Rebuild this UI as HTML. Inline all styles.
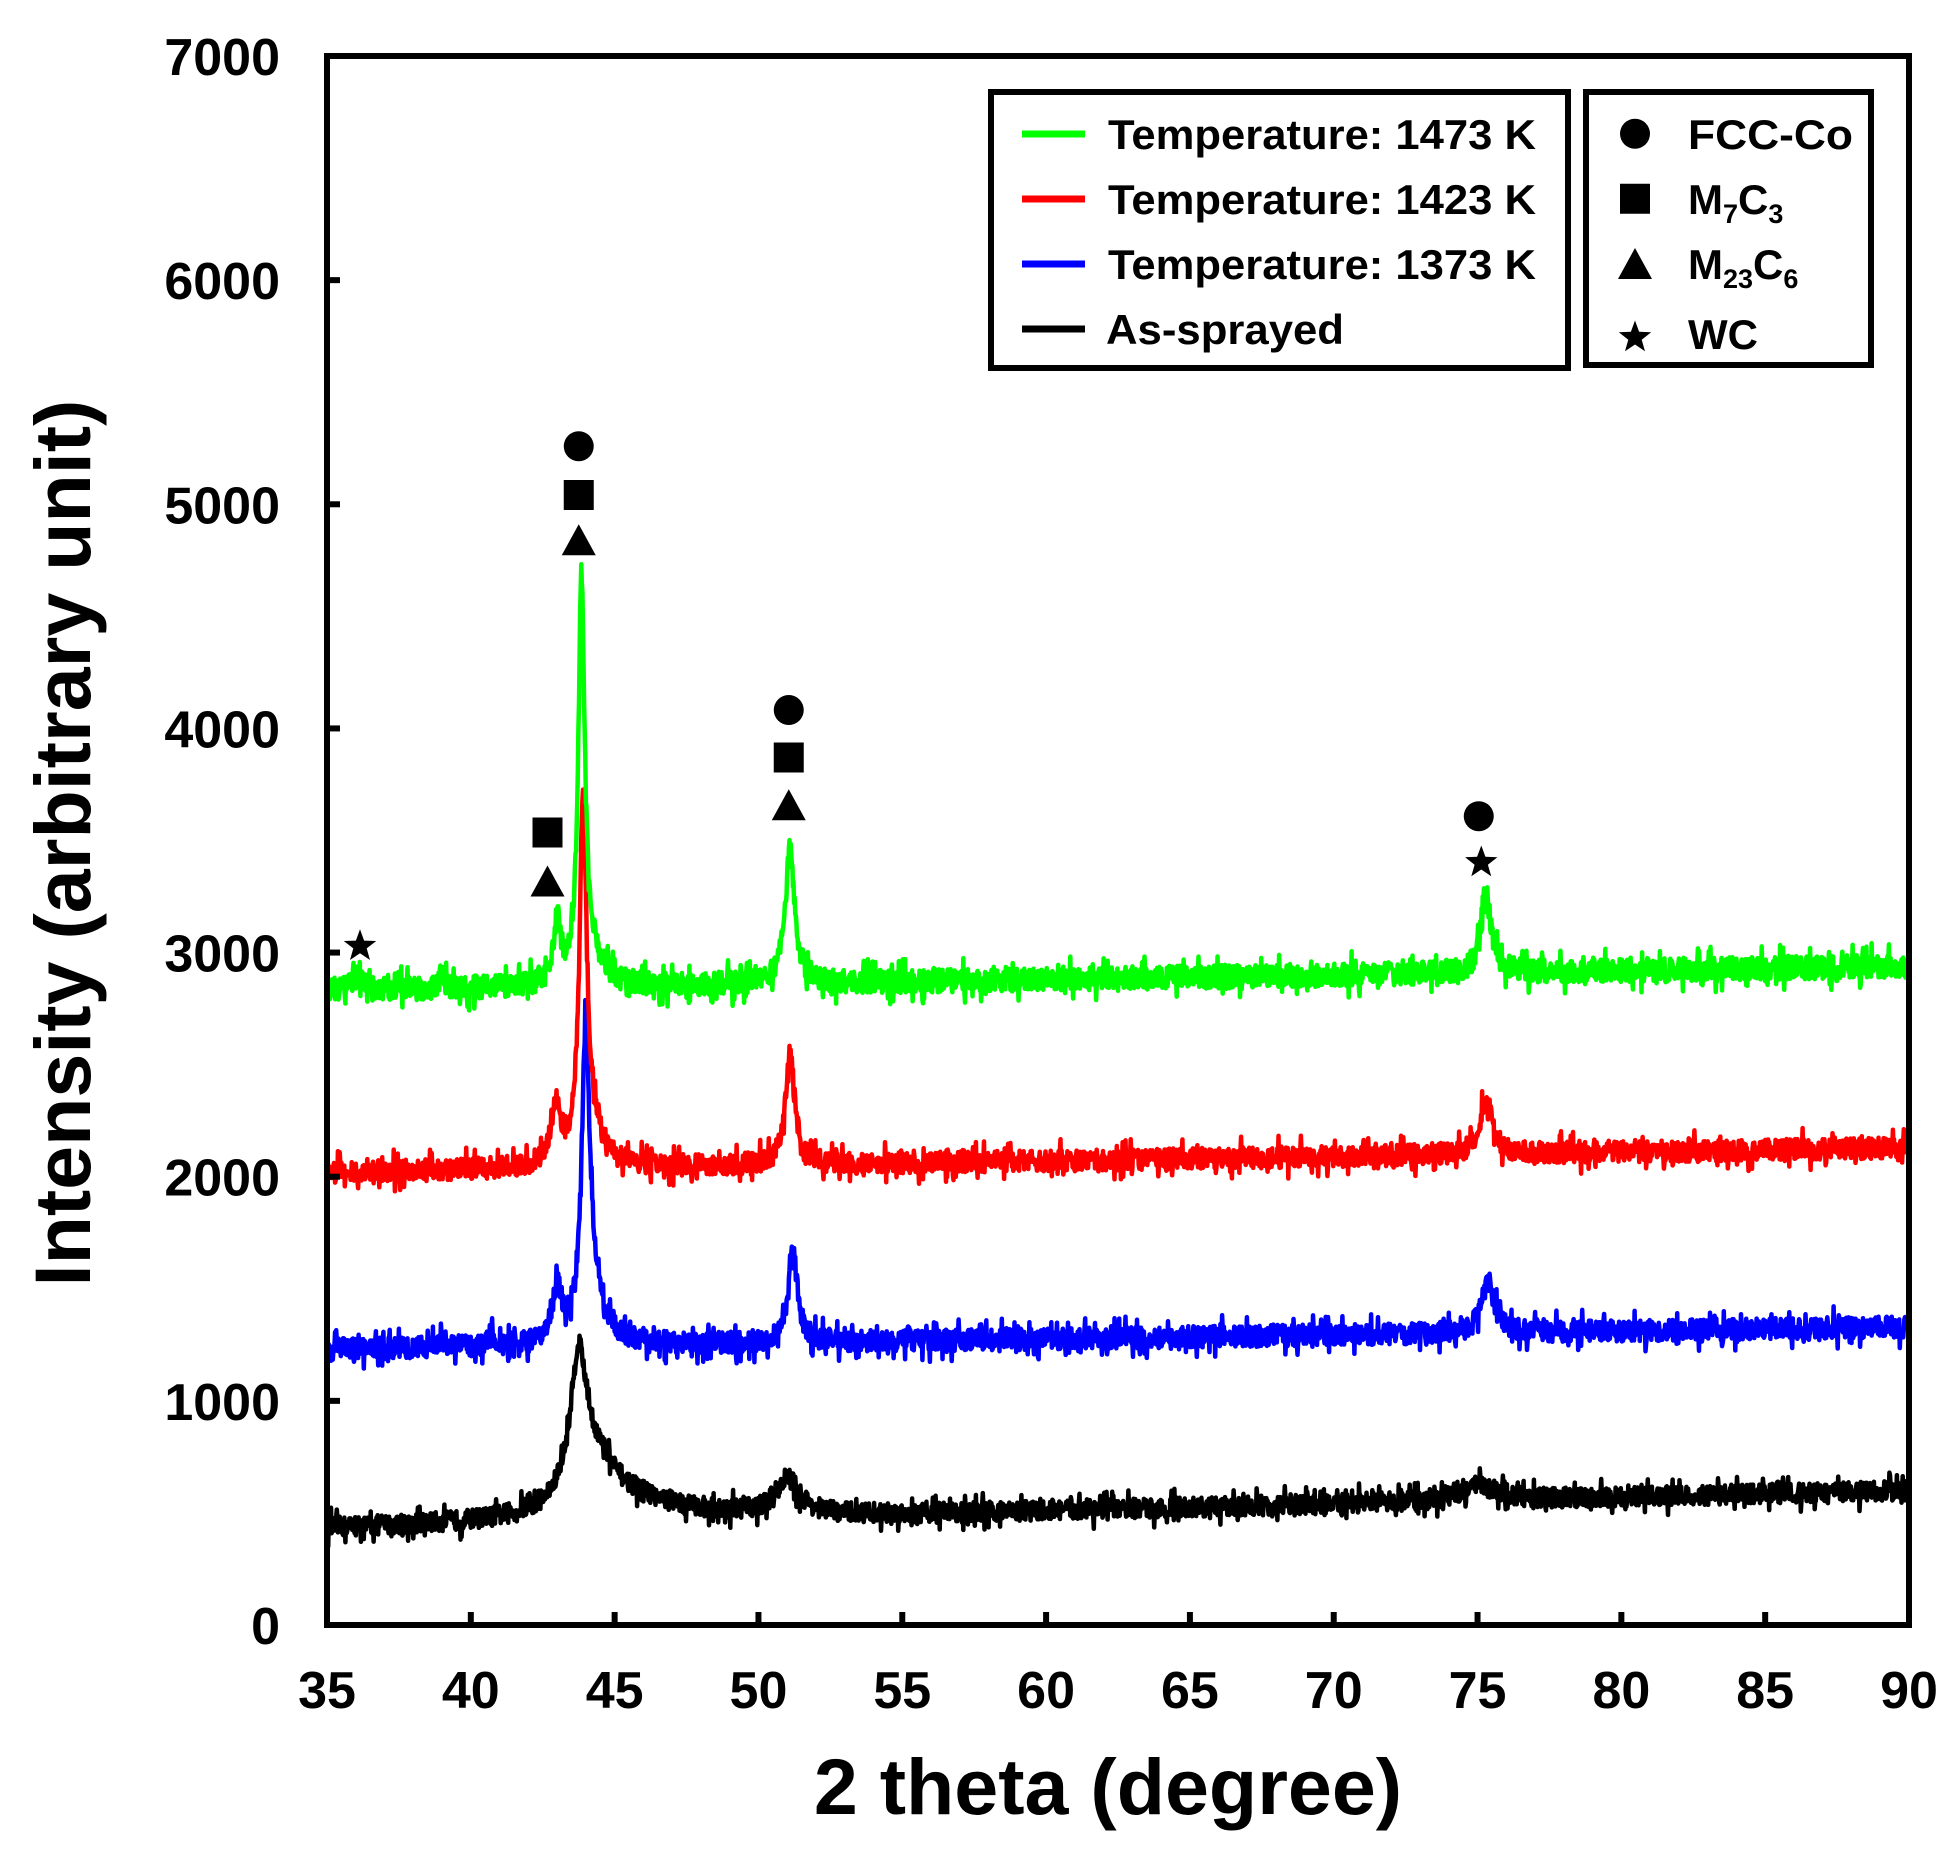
<!DOCTYPE html>
<html><head><meta charset="utf-8"><style>
html,body{margin:0;padding:0;background:#fff}
svg{display:block}
text{font-family:"Liberation Sans",Arial,sans-serif;font-weight:bold;fill:#000}
</style></head><body>
<svg id="s" width="1960" height="1859" viewBox="0 0 1960 1859" xmlns="http://www.w3.org/2000/svg">
<g id="series"></g>
<rect x="327" y="56" width="1582" height="1569" fill="none" stroke="#000" stroke-width="6"/>
<g id="ticks" stroke="#000" stroke-width="6"></g>
<g id="labels" font-size="52"></g>
<text x="1108" y="1814" font-size="79" text-anchor="middle">2 theta (degree)</text>
<text transform="translate(90,843) rotate(-90)" font-size="79" text-anchor="middle">Intensity (arbitrary unit)</text>
<!-- legend 1 -->
<rect x="991" y="92" width="577" height="276" fill="#fff" stroke="#000" stroke-width="6"/>
<line x1="1022" y1="134" x2="1085" y2="134" stroke="#00ff00" stroke-width="7"/>
<line x1="1022" y1="199" x2="1085" y2="199" stroke="#ff0000" stroke-width="7"/>
<line x1="1022" y1="264" x2="1085" y2="264" stroke="#0000ff" stroke-width="7"/>
<line x1="1022" y1="329" x2="1085" y2="329" stroke="#000" stroke-width="7"/>
<g font-size="42">
<text x="1108" y="149" textLength="428" lengthAdjust="spacingAndGlyphs">Temperature: 1473 K</text>
<text x="1108" y="214" textLength="428" lengthAdjust="spacingAndGlyphs">Temperature: 1423 K</text>
<text x="1108" y="279" textLength="428" lengthAdjust="spacingAndGlyphs">Temperature: 1373 K</text>
<text x="1106" y="344" textLength="238" lengthAdjust="spacingAndGlyphs">As-sprayed</text>
</g>
<!-- legend 2 -->
<rect x="1586" y="92" width="285" height="273" fill="#fff" stroke="#000" stroke-width="6"/>
<g font-size="42">
<text x="1688" y="149" textLength="165" lengthAdjust="spacingAndGlyphs">FCC-Co</text>
<text x="1688" y="214">M<tspan font-size="27" dy="9">7</tspan><tspan dy="-9">C</tspan><tspan font-size="27" dy="9">3</tspan></text>
<text x="1688" y="279">M<tspan font-size="27" dy="9">23</tspan><tspan dy="-9">C</tspan><tspan font-size="27" dy="9">6</tspan></text>
<text x="1688" y="349">WC</text>
</g>
<g id="marks"></g>
</svg>
<script>
var NS="http://www.w3.org/2000/svg";
function el(t,a,p){var e=document.createElementNS(NS,t);for(var k in a)e.setAttribute(k,a[k]);p.appendChild(e);return e;}
var X0=327,X1=1909,Y0=1625,Y1=56;
function px(t){return X0+(t-35)*(X1-X0)/55;}
function py(v){return Y0-v*(Y0-Y1)/7000;}
var ticks=document.getElementById('ticks'),labels=document.getElementById('labels');
for(var t=35;t<=90;t+=5){var x=px(t);if(t>35&&t<90){el('line',{x1:x,y1:Y0,x2:x,y2:Y0-13},ticks);}
 var tx=el('text',{x:x,y:1708,'text-anchor':'middle'},labels);tx.textContent=t;}
for(var v=0;v<=7000;v+=1000){var y=py(v);if(v>0&&v<7000){el('line',{x1:X0,y1:y,x2:X0+13,y2:y},ticks);}
 var ty=el('text',{x:280,y:y+19,'text-anchor':'end'},labels);ty.textContent=v;}
var seed=12345;function rnd(){seed=(seed*16807)%2147483647;return seed/2147483647;}
function lor(x,c,w,h){var d=(x-c)/w;return h/(1+d*d);}
var series=[
 {c:'#000000',b0:430,b1:600,n:55,pk:[[43.75,0.35,600],[44.3,0.9,200],[45.5,2.5,80],[51.0,0.5,160],[75.0,0.8,70]]},
 {c:'#0000ff',b0:1230,b1:1330,n:60,pk:[[43.0,0.2,230],[44.0,0.17,1350],[44.3,0.5,150],[51.2,0.2,400],[75.35,0.25,250],[39.0,0.08,80],[40.7,0.08,90]]},
 {c:'#ff0000',b0:2020,b1:2130,n:60,pk:[[42.95,0.2,250],[43.9,0.15,1550],[44.2,0.5,150],[51.1,0.2,480],[75.3,0.25,250]]},
 {c:'#00ff00',b0:2830,b1:2940,n:65,pk:[[43.0,0.15,280],[43.85,0.13,1780],[44.2,0.4,120],[51.1,0.2,600],[75.3,0.22,330],[36.1,0.3,60],[39.0,0.1,70]]}
];
var g=document.getElementById('series');
series.forEach(function(s){var pts=[];for(var t=35;t<=90;t+=0.02){var v=s.b0+(s.b1-s.b0)*(t-35)/55;
 s.pk.forEach(function(p){v+=lor(t,p[0],p[1],p[2]);});v+=(rnd()-0.5)*2*s.n*(rnd()<0.15?1.6:0.8);
 pts.push(px(t).toFixed(1)+','+py(v).toFixed(1));}
 el('polyline',{points:pts.join(' '),fill:'none',stroke:s.c,'stroke-width':4.5,'stroke-linejoin':'round'},g);});
var m=document.getElementById('marks');
function circ(x,y){el('circle',{cx:x,cy:y,r:15,fill:'#000'},m);}
function sq(x,y){el('rect',{x:x-15,y:y-15,width:30,height:30,fill:'#000'},m);}
function tri(x,y){el('polygon',{points:(x)+','+(y-17)+' '+(x-17)+','+(y+14)+' '+(x+17)+','+(y+14),fill:'#000'},m);}
function star(x,y){var p=[];for(var i=0;i<10;i++){var r=i%2?7:17,a=-Math.PI/2+i*Math.PI/5;p.push((x+r*Math.cos(a)).toFixed(1)+','+(y+r*Math.sin(a)).toFixed(1));}el('polygon',{points:p.join(' '),fill:'#000'},m);}
var k=1.25;
circ(463*k,357*k);sq(463*k,396*k);tri(463*k,433*k);
sq(438*k,666*k);tri(438*k,706*k);
star(288*k,757*k);
circ(631*k,568*k);sq(631*k,606*k);tri(631*k,645*k);
circ(1183*k,653*k);star(1185*k,690*k);
circ(1308*k,107*k);sq(1308*k,159*k);tri(1308*k,212*k);star(1308*k,270*k);
</script>
</body></html>
